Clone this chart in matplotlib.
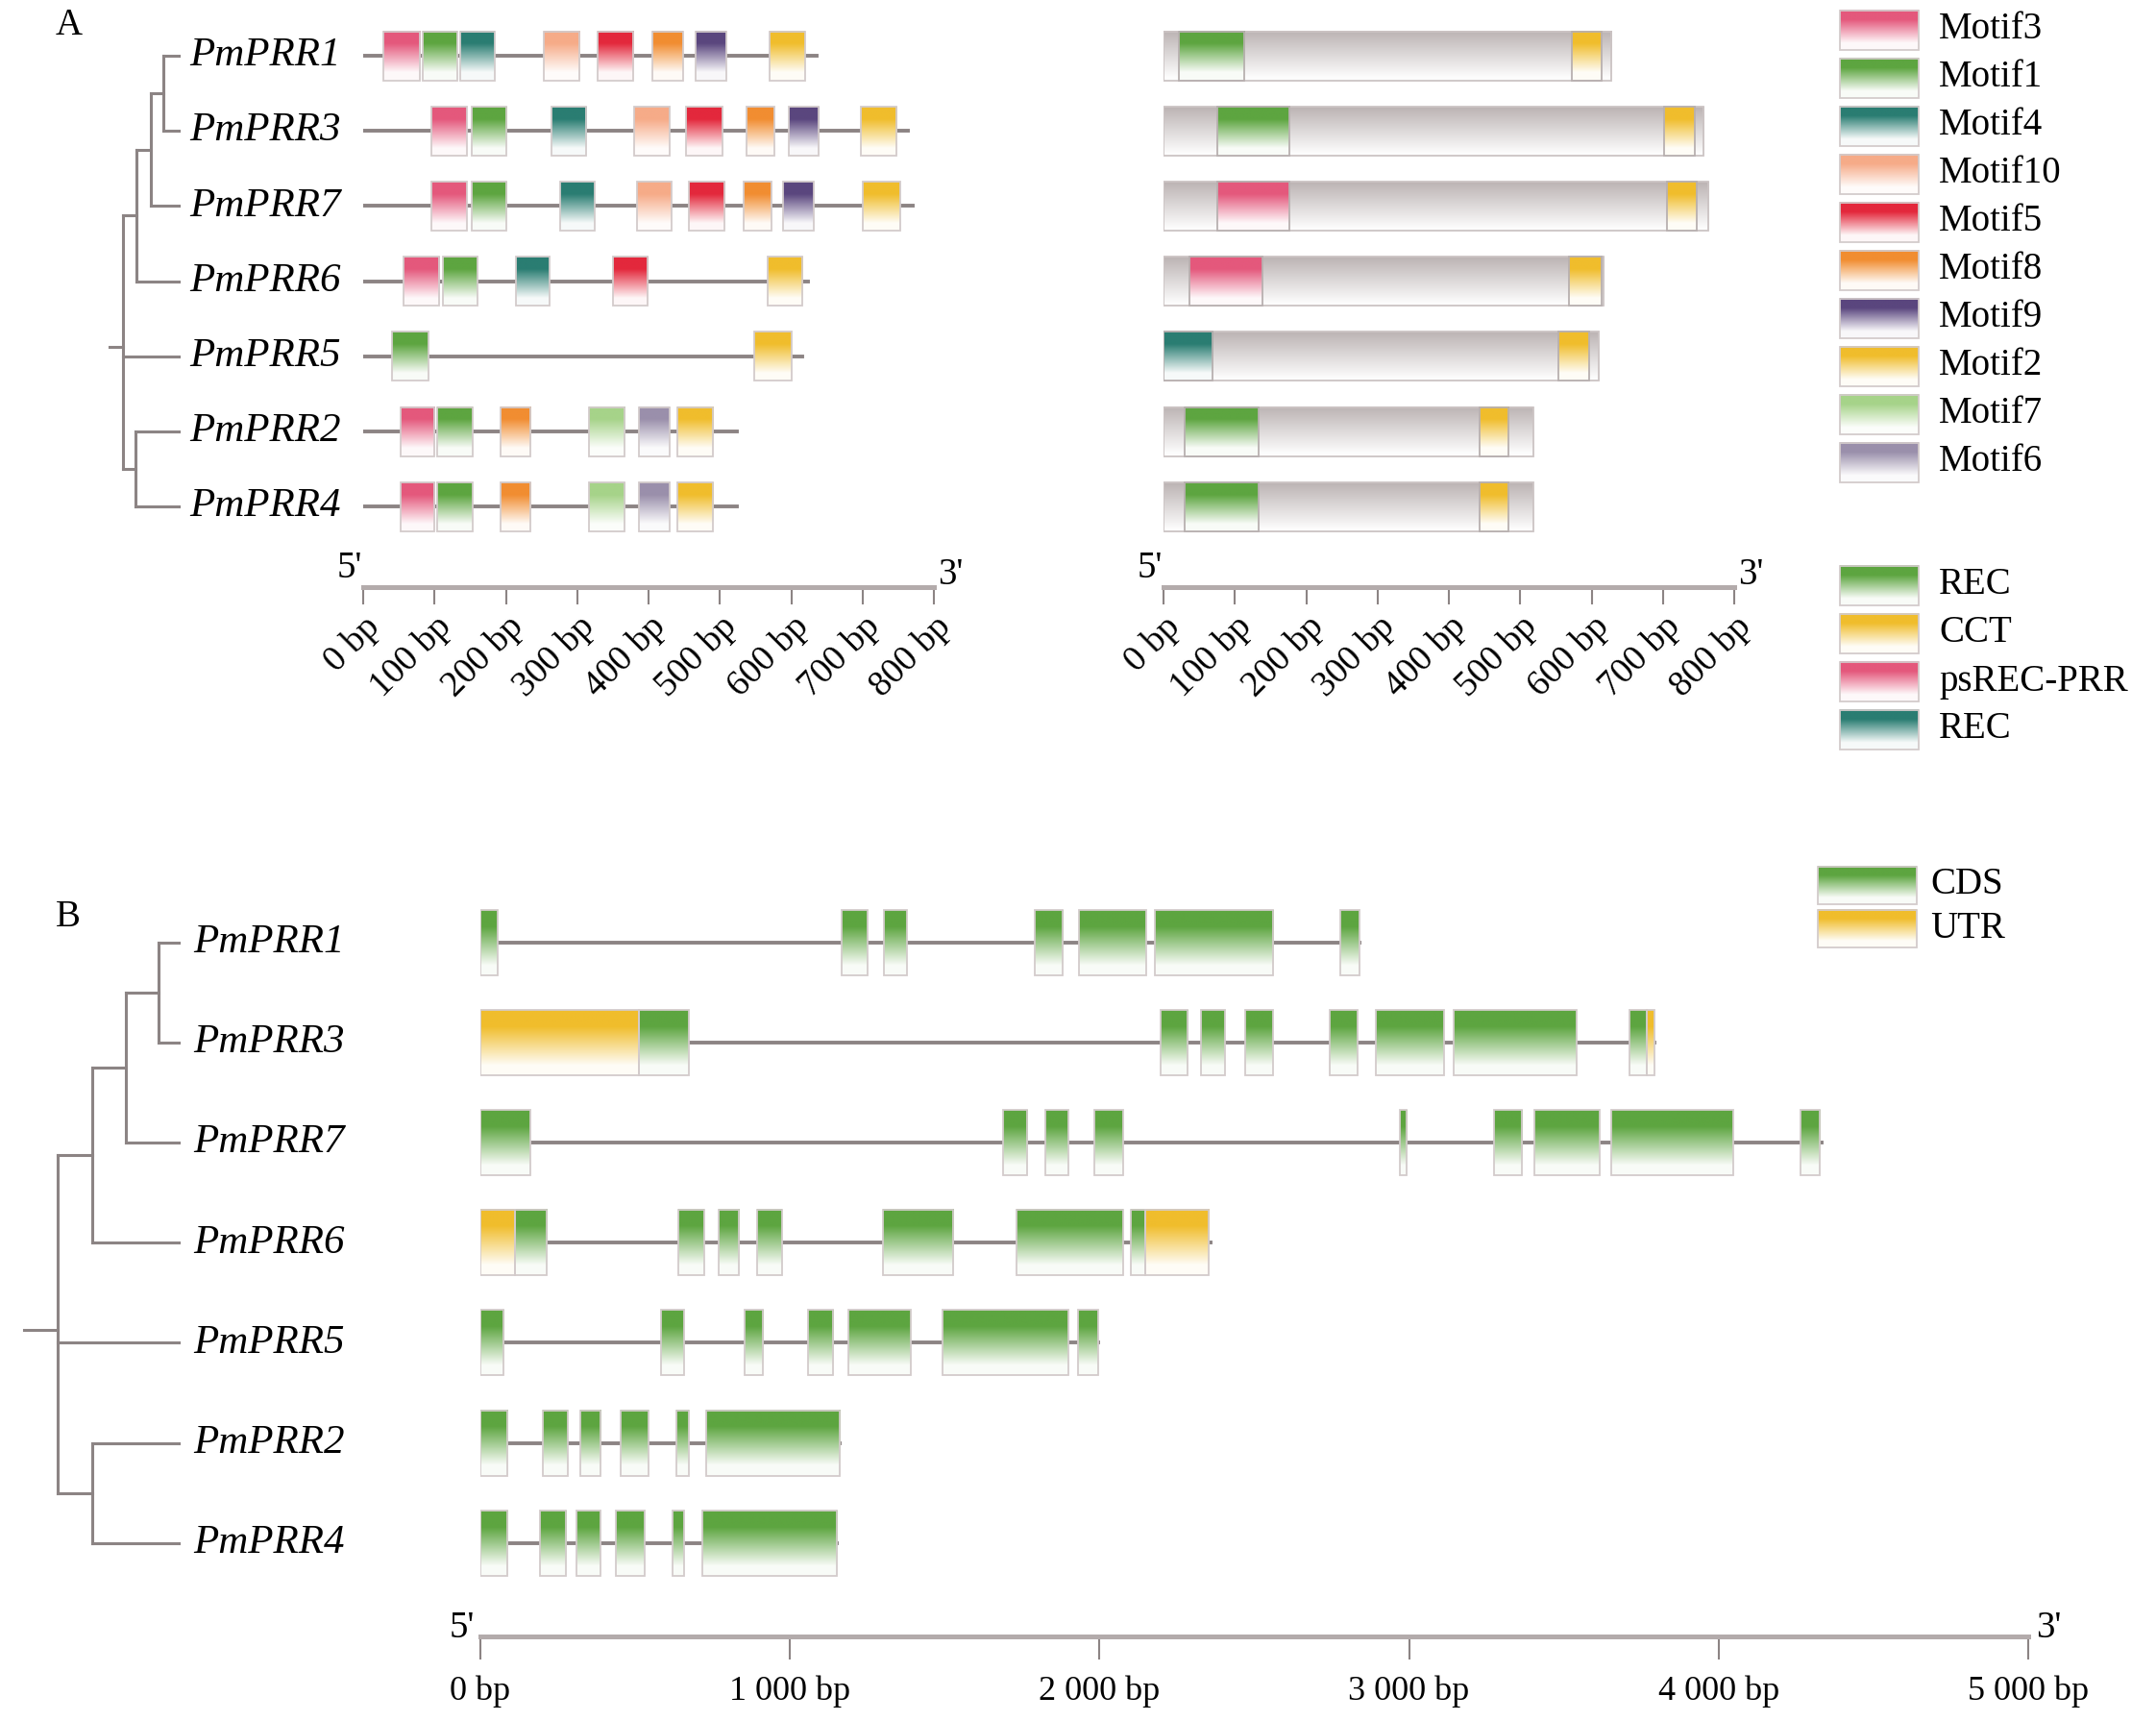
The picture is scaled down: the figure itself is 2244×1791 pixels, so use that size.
import numpy as np
import matplotlib
matplotlib.use("Agg")
import matplotlib.pyplot as plt
from matplotlib.patches import Rectangle
from matplotlib.colors import to_rgb

plt.rcParams['font.family'] = ['Liberation Serif', 'DejaVu Serif']

# ---------------- data ----------------
genes = ['PmPRR1', 'PmPRR3', 'PmPRR7', 'PmPRR6', 'PmPRR5', 'PmPRR2', 'PmPRR4']

motif_names = ['Motif3', 'Motif1', 'Motif4', 'Motif10', 'Motif5',
               'Motif8', 'Motif9', 'Motif2', 'Motif7', 'Motif6']
motif_colors = ['#e4587c', '#5da540', '#2a7d72', '#f6ab88', '#e3283c',
                '#f18d31', '#5a467e', '#f0bd2c', '#a6d389', '#9a8fab']

# protein length (aa) and motif sites (motif, start, end)
motif_len = [636, 764, 770, 623, 616, 524, 524]
motif_sites = [
    [('Motif3', 28, 80), ('Motif1', 84, 132), ('Motif4', 136, 184), ('Motif10', 253, 303),
     ('Motif5', 328, 378), ('Motif8', 405, 448), ('Motif9', 466, 509), ('Motif2', 570, 619)],
    [('Motif3', 96, 145), ('Motif1', 152, 201), ('Motif4', 264, 313), ('Motif10', 380, 429),
     ('Motif5', 453, 504), ('Motif8', 537, 576), ('Motif9', 596, 639), ('Motif2', 697, 748)],
    [('Motif3', 96, 145), ('Motif1', 152, 201), ('Motif4', 276, 324), ('Motif10', 384, 432),
     ('Motif5', 457, 507), ('Motif8', 533, 572), ('Motif9', 589, 632), ('Motif2', 701, 753)],
    [('Motif3', 56, 106), ('Motif1', 112, 160), ('Motif4', 214, 261), ('Motif5', 350, 399),
     ('Motif2', 567, 616)],
    [('Motif1', 40, 91), ('Motif2', 548, 600)],
    [('Motif3', 52, 100), ('Motif1', 104, 153), ('Motif8', 192, 234), ('Motif7', 316, 366),
     ('Motif6', 386, 429), ('Motif2', 440, 490)],
    [('Motif3', 52, 100), ('Motif1', 104, 153), ('Motif8', 192, 234), ('Motif7', 316, 366),
     ('Motif6', 386, 429), ('Motif2', 440, 490)],
]

domain_names = ['REC', 'CCT', 'psREC-PRR', 'REC ']
domain_colors = ['#5da540', '#f0bd2c', '#e4587c', '#2a7d72']
domain_len = [628, 757, 764, 617, 610, 518, 518]
domain_sites = [
    [('REC', 21, 113), ('CCT', 573, 614)],
    [('REC', 76, 177), ('CCT', 702, 745)],
    [('psREC-PRR', 76, 177), ('CCT', 706, 747)],
    [('psREC-PRR', 37, 139), ('CCT', 569, 614)],
    [('REC ', 0, 69), ('CCT', 553, 596)],
    [('REC', 30, 133), ('CCT', 443, 484)],
    [('REC', 30, 133), ('CCT', 443, 484)],
]

# gene structure: total length (bp) and features (start, end, type)
gene_len = [2840, 3793, 4333, 2360, 1995, 1160, 1153]
gene_parts = [
    [(0, 55, 'CDS'), (1168, 1250, 'CDS'), (1305, 1378, 'CDS'), (1790, 1882, 'CDS'),
     (1935, 2150, 'CDS'), (2178, 2562, 'CDS'), (2779, 2840, 'CDS')],
    [(0, 513, 'UTR'), (513, 673, 'CDS'), (2197, 2284, 'CDS'), (2328, 2404, 'CDS'),
     (2472, 2561, 'CDS'), (2745, 2834, 'CDS'), (2893, 3113, 'CDS'), (3144, 3540, 'CDS'),
     (3711, 3769, 'CDS'), (3769, 3793, 'UTR')],
    [(0, 160, 'CDS'), (1688, 1767, 'CDS'), (1826, 1899, 'CDS'), (1982, 2075, 'CDS'),
     (2970, 2993, 'CDS'), (3273, 3364, 'CDS'), (3405, 3616, 'CDS'), (3653, 4047, 'CDS'),
     (4263, 4327, 'CDS')],
    [(0, 112, 'UTR'), (112, 215, 'CDS'), (640, 722, 'CDS'), (769, 836, 'CDS'),
     (895, 975, 'CDS'), (1300, 1528, 'CDS'), (1731, 2075, 'CDS'), (2101, 2147, 'CDS'),
     (2147, 2352, 'UTR')],
    [(0, 76, 'CDS'), (584, 657, 'CDS'), (852, 912, 'CDS'), (1058, 1139, 'CDS'),
     (1189, 1390, 'CDS'), (1492, 1898, 'CDS'), (1930, 1995, 'CDS')],
    [(0, 88, 'CDS'), (203, 282, 'CDS'), (322, 388, 'CDS'), (453, 542, 'CDS'),
     (633, 673, 'CDS'), (728, 1160, 'CDS')],
    [(0, 88, 'CDS'), (191, 275, 'CDS'), (310, 387, 'CDS'), (437, 530, 'CDS'),
     (621, 657, 'CDS'), (717, 1153, 'CDS')],
]
part_names = ['CDS', 'UTR']
part_colors = ['#5da540', '#f0bd2c']

# trees: (node, children, depth) bottom-up, depth in pixels
tree_a = [('n13', ['PmPRR1', 'PmPRR3'], 170), ('n137', ['n13', 'PmPRR7'], 157),
          ('n1376', ['n137', 'PmPRR6'], 142), ('n24', ['PmPRR2', 'PmPRR4'], 141),
          ('root', ['n1376', 'PmPRR5', 'n24'], 128)]
tree_b = [('n13', ['PmPRR1', 'PmPRR3'], 165), ('n137', ['n13', 'PmPRR7'], 131),
          ('n1376', ['n137', 'PmPRR6'], 96), ('n24', ['PmPRR2', 'PmPRR4'], 96),
          ('root', ['n1376', 'PmPRR5', 'n24'], 60)]

a_ticks = [0, 100, 200, 300, 400, 500, 600, 700, 800]
b_ticks = [0, 1000, 2000, 3000, 4000, 5000]
b_tick_labels = ['0 bp', '1 000 bp', '2 000 bp', '3 000 bp', '4 000 bp', '5 000 bp']

# ---------------- drawing ----------------
W, H = 2244, 1791
fig = plt.figure(figsize=(W / 100, H / 100), dpi=100)
GREY = '#8c8484'


def px_axes(x0, y0, x1, y1):
    return fig.add_axes([x0 / W, 1 - y1 / H, (x1 - x0) / W, (y1 - y0) / H])


def shade(ax, x0, x1, yc, h, color, lo=0.25, hi=0.85, edge='#d3cbcb', z=3):
    t = np.linspace(0, 1, 80)[:, None]
    m = np.clip((t - lo) / (hi - lo), 0, 1) * 0.96
    img = np.array(to_rgb(color)) * (1 - m) + m
    if ax.yaxis_inverted():
        ext = (x0, x1, yc + h / 2, yc - h / 2)
    else:
        ext = (x0, x1, yc - h / 2, yc + h / 2)
    ax.imshow(img[:, None, :], extent=ext, origin='upper', aspect='auto',
              interpolation='bilinear', zorder=z)
    ax.add_patch(Rectangle((x0, yc - h / 2), x1 - x0, h, fill=False,
                           ec=edge, lw=1.3, zorder=z + 0.1))


def track_axes(x0, x1, xmax, row0, step, top, axis_y, tick_len):
    ax = px_axes(x0, top, x1, axis_y)
    ax.set_xlim(0, xmax)
    ax.set_ylim(-(axis_y - row0) / step, (row0 - top) / step)
    ax.patch.set_visible(False)
    for s in ['top', 'left', 'right']:
        ax.spines[s].set_visible(False)
    ax.spines['bottom'].set_color('#b3abab')
    ax.spines['bottom'].set_linewidth(3.6)
    ax.set_yticks([])
    ax.tick_params(axis='x', direction='out', length=tick_len, width=1.5,
                   color=GREY, labelcolor='black')
    return ax


# overlay in pixel coordinates for trees, names and legends
ov = fig.add_axes([0, 0, 1, 1])
ov.set_xlim(0, W)
ov.set_ylim(H, 0)
ov.axis('off')


def draw_tree(nodes, row0, step, leaf_x, stub):
    pos = {g: (leaf_x, row0 + step * i) for i, g in enumerate(genes)}
    for name, kids, x in nodes:
        ys = [pos[k][1] for k in kids]
        ov.plot([x, x], [min(ys), max(ys)], color=GREY, lw=2.2, solid_capstyle='projecting')
        for k in kids:
            ov.plot([x, pos[k][0]], [pos[k][1]] * 2, color=GREY, lw=2.2)
        pos[name] = (x, np.mean(ys))
    rx, ry = pos['root']
    ov.plot([rx - stub, rx], [ry, ry], color=GREY, lw=2.2)


# ---- panel A ----
A_ROW0, A_STEP = 58, 78.2
A_H = 51 / A_STEP
ov.text(58, 26, 'A', fontsize=28, va='center', ha='left')
draw_tree(tree_a, A_ROW0, A_STEP, 186, 14)
for i, g in enumerate(genes):
    ov.text(197, A_ROW0 + A_STEP * i, g, fontsize=31, style='italic', va='center', ha='left')

axm = track_axes(378, 972, 800, A_ROW0, A_STEP, 10, 611, 13)
for i, sites in enumerate(motif_sites):
    y = -i
    axm.plot([0, motif_len[i]], [y, y], color=GREY, lw=2.8, zorder=2)
    for name, s, e in sites:
        shade(axm, s, e, y, A_H, motif_colors[motif_names.index(name)])

axp = track_axes(1211, 1805, 800, A_ROW0, A_STEP, 10, 611, 13)
for i, sites in enumerate(domain_sites):
    y = -i
    shade(axp, 0, domain_len[i], y, A_H, '#bdb5b5', lo=0.02, hi=0.95, edge='#ccc4c4', z=2)
    for name, s, e in sites:
        shade(axp, s, e, y, A_H, domain_colors[domain_names.index(name)], edge='#b8b0b0')

for ax in (axm, axp):
    ax.set_xticks(a_ticks)
    ax.set_xticklabels([f'{t} bp' for t in a_ticks], fontsize=27, rotation=45,
                       ha='right', va='top', rotation_mode='anchor')
    ax.tick_params(axis='x', pad=4)
    ax.annotate("5'", xy=(0, 0), xycoords='axes fraction', xytext=(-1, 14),
                textcoords='offset points', ha='right', va='center', fontsize=28)
    ax.annotate("3'", xy=(1, 0), xycoords='axes fraction', xytext=(3, 9),
                textcoords='offset points', ha='left', va='center', fontsize=28)

for k, (name, col) in enumerate(zip(motif_names, motif_colors)):
    yc = 31 + 50 * k
    shade(ov, 1915, 1997, yc, 41, col)
    ov.text(2018, yc, name, fontsize=28, va='center', ha='left')
for k, (name, col) in enumerate(zip(domain_names, domain_colors)):
    yc = 609 + 50 * k
    shade(ov, 1915, 1997, yc, 41, col)
    ov.text(2018, yc, name.strip(), fontsize=28, va='center', ha='left')

# ---- panel B ----
B_ROW0, B_STEP = 981, 104.1
B_H = 68 / B_STEP
ov.text(58, 955, 'B', fontsize=28, va='center', ha='left')
draw_tree(tree_b, B_ROW0, B_STEP, 186, 35)
for i, g in enumerate(genes):
    ov.text(201, B_ROW0 + B_STEP * i, g, fontsize=31, style='italic', va='center', ha='left')

axg = track_axes(500, 2111, 5000, B_ROW0, B_STEP, 900, 1703, 17)
for i, parts in enumerate(gene_parts):
    y = -i
    axg.plot([0, gene_len[i]], [y, y], color=GREY, lw=2.8, zorder=2)
    for s, e, kind in parts:
        shade(axg, s, e, y, B_H, part_colors[part_names.index(kind)])
axg.set_xticks(b_ticks)
axg.set_xticklabels(b_tick_labels, fontsize=26)
axg.tick_params(axis='x', pad=12)
axg.annotate("5'", xy=(0, 0), xycoords='axes fraction', xytext=(-4, 6),
             textcoords='offset points', ha='right', va='center', fontsize=28)
axg.annotate("3'", xy=(1, 0), xycoords='axes fraction', xytext=(6, 6),
             textcoords='offset points', ha='left', va='center', fontsize=28)

for k, (name, col) in enumerate(zip(part_names, part_colors)):
    yc = 921 + 45 * k
    shade(ov, 1892, 1995, yc, 39, col)
    ov.text(2009, yc, name, fontsize=28, va='center', ha='left')

fig.savefig('out.png', dpi=100)
